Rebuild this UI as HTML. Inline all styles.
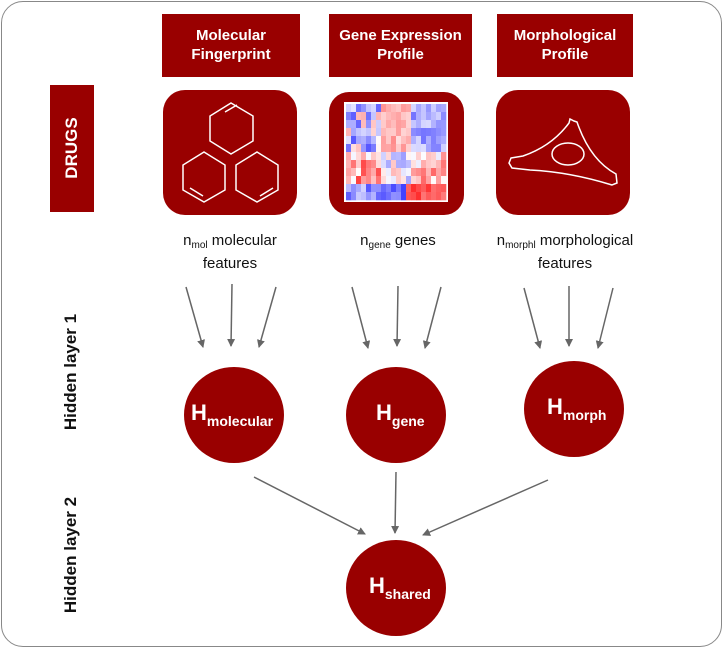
<!DOCTYPE html>
<html><head><meta charset="utf-8"><style>
body{margin:0;background:#fff;width:724px;height:649px;overflow:hidden;font-family:"Liberation Sans",sans-serif}
.b{position:absolute;background:#990000;color:#fff;font-weight:bold;text-align:center}
.t{position:absolute;text-align:center;font-size:15px;color:#111;line-height:18px}
sub{font-size:10px;vertical-align:-3px}
</style></head><body>
<div style="position:absolute;left:1px;top:1px;width:719px;height:644px;border:1px solid #888;border-radius:22px"></div>
<div class="b" style="left:162px;top:14px;width:138px;height:63px;font-size:15px;line-height:19px;padding-top:12px;box-sizing:border-box">Molecular<br>Fingerprint</div>
<div class="b" style="left:329px;top:14px;width:143px;height:63px;font-size:15px;line-height:19px;padding-top:12px;box-sizing:border-box">Gene Expression<br>Profile</div>
<div class="b" style="left:497px;top:14px;width:136px;height:63px;font-size:15px;line-height:19px;padding-top:12px;box-sizing:border-box">Morphological<br>Profile</div>
<div class="b" style="left:50px;top:85px;width:44px;height:127px"></div>
<div style="position:absolute;left:72px;top:148px;transform:translate(-50%,-50%) rotate(-90deg);color:#fff;font-weight:bold;font-size:17px;white-space:nowrap">DRUGS</div>
<div style="position:absolute;left:71px;top:372px;transform:translate(-50%,-50%) rotate(-90deg);color:#111;font-weight:bold;font-size:17px;white-space:nowrap">Hidden layer 1</div>
<div style="position:absolute;left:71px;top:555px;transform:translate(-50%,-50%) rotate(-90deg);color:#111;font-weight:bold;font-size:17px;white-space:nowrap">Hidden layer 2</div>
<svg width="724" height="649" style="position:absolute;left:0;top:0">
<defs><marker id="a" markerWidth="8" markerHeight="8" refX="7" refY="4" orient="auto" markerUnits="userSpaceOnUse"><path d="M0,0 L8,4 L0,8 Z" fill="#666"/></marker></defs>
<rect x="163" y="90" width="134" height="125" rx="22" fill="#990000"/>
<rect x="329" y="92" width="135" height="123" rx="20" fill="#990000"/>
<rect x="496" y="90" width="134" height="125" rx="22" fill="#990000"/>
<g fill="none" stroke="#fff" stroke-width="1.5">
<polygon points="231,103 253,116 253,141 231,154 210,141 210,116"/>
<line x1="225" y1="112" x2="237" y2="105"/>
<polygon points="204,152 225,165 225,190 204,202 183,190 183,165"/>
<line x1="190" y1="188" x2="203" y2="196"/>
<polygon points="257,152 278,165 278,190 257,202 236,190 236,165"/>
<line x1="260" y1="196" x2="273" y2="188"/>
<path d="M511,158 L523,156 Q552,146 569,123 L570,119 L574,121 L577,122 Q590,160 616,174 L617,183 L612,185 Q570,172 530,170 L512,168 L509,163 Z"/>
<ellipse cx="568" cy="154" rx="16" ry="11"/>
</g>
<rect x="344" y="102" width="104" height="100" fill="#fff"/>
<g id="hm"></g>
<g stroke="#666" stroke-width="1.5" marker-end="url(#a)">
<line x1="186" y1="287" x2="203" y2="347"/><line x1="232" y1="284" x2="231" y2="346"/><line x1="276" y1="287" x2="259" y2="347"/>
<line x1="352" y1="287" x2="368" y2="348"/><line x1="398" y1="286" x2="397" y2="346"/><line x1="441" y1="287" x2="425" y2="348"/>
<line x1="524" y1="288" x2="540" y2="348"/><line x1="569" y1="286" x2="569" y2="346"/><line x1="613" y1="288" x2="598" y2="348"/>
<line x1="254" y1="477" x2="365" y2="534"/><line x1="396" y1="472" x2="395" y2="533"/><line x1="548" y1="480" x2="423" y2="535"/>
</g>
<ellipse cx="234" cy="415" rx="50" ry="48" fill="#990000"/>
<ellipse cx="396" cy="415" rx="50" ry="48" fill="#990000"/>
<ellipse cx="574" cy="409" rx="50" ry="48" fill="#990000"/>
<ellipse cx="396" cy="588" rx="50" ry="48" fill="#990000"/>
<g fill="#fff" font-weight="bold" font-family="Liberation Sans,sans-serif">
<text x="191" y="420" font-size="22">H<tspan font-size="14" dy="6">molecular</tspan></text>
<text x="376" y="420" font-size="22">H<tspan font-size="14" dy="6">gene</tspan></text>
<text x="547" y="414" font-size="22">H<tspan font-size="14" dy="6">morph</tspan></text>
<text x="369" y="593" font-size="22">H<tspan font-size="14" dy="6">shared</tspan></text>
</g>
</svg>
<div class="t" style="left:150px;top:232px;width:160px">n<sub>mol</sub> molecular<br>features</div>
<div class="t" style="left:318px;top:232px;width:160px">n<sub>gene</sub> genes</div>
<div class="t" style="left:480px;top:232px;width:170px">n<sub>morphl</sub> morphological<br>features</div>
<script>
(function(){var g=document.getElementById('hm'),C=20,R=12,x0=346,y0=104,w=100/C,h=96/R,s=7,out='';
function rnd(){s=(s*9301+49297)%233280;return s/233280;}
for(var r=0;r<R;r++)for(var c=0;c<C;c++){var fx=c/C,fy=r/R,v;
if(fy<0.8){ if(fx<0.35)v=fy<0.47?(rnd()*1.2-0.8):(rnd()*1.0-0.1); else if(fx<0.62)v=fy<0.47?(0.15+rnd()*0.4):(rnd()*0.8-0.45); else v=fy<0.47?(-0.15-rnd()*0.5):(rnd()*0.8-0.1);}
else{ if(fx<0.3)v=-0.2-rnd()*0.6; else if(fx<0.6)v=-0.5-rnd()*0.5; else v=0.6+rnd()*0.4;}
v*=0.85;
var col;if(v>0){var k=Math.round(255*(1-v));col='rgb(255,'+k+','+k+')';}else{var k=Math.round(255*(1+v));col='rgb('+k+','+k+',255)';}
out+='<rect x="'+(x0+c*w)+'" y="'+(y0+r*h)+'" width="'+(w+0.3)+'" height="'+(h+0.3)+'" fill="'+col+'"/>';}
g.innerHTML=out;})();
</script>
</body></html>
